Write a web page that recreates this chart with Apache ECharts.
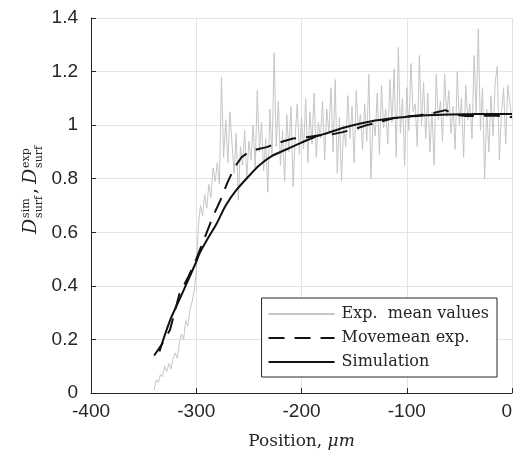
<!DOCTYPE html>
<html>
<head>
<meta charset="utf-8">
<script src="https://cdn.jsdelivr.net/npm/echarts@6/dist/echarts.min.js"></script>
<style>html,body{margin:0;padding:0;background:#fff;}#c{width:515px;height:455px;}</style>
</head>
<body>
<div id="c"></div>
<script>
// Experimental mean values, every 2 µm from -340 to 0
const expStart = -340, expStep = 2;
const expValues = [
  0.01, 0.05, 0.04, 0.07, 0.06, 0.10, 0.08, 0.11, 0.09, 0.13,
  0.15, 0.13, 0.19, 0.22, 0.20, 0.27, 0.25, 0.31, 0.34, 0.38,
  0.45, 0.62, 0.70, 0.66, 0.74, 0.69, 0.78, 0.73, 0.84, 0.79,
  0.86, 0.78, 1.18, 0.88, 1.02, 0.86, 1.05, 0.93, 0.82, 0.97,
  0.72, 0.92, 0.85, 0.98, 0.80, 0.94, 0.87, 1.00, 0.84, 1.13,
  0.90, 1.01, 0.83, 0.95, 0.75, 1.06, 0.88, 1.27, 0.92, 1.09,
  0.85, 0.98, 0.79, 1.04, 0.90, 1.07, 0.77, 0.96, 1.08, 0.89,
  1.03, 0.91, 1.10, 0.86, 1.05, 0.93, 1.12, 0.88, 1.01, 0.95,
  1.09, 0.87, 1.06, 0.97, 1.14, 0.90, 1.17, 0.82, 1.03, 0.79,
  1.00, 0.92, 1.11, 0.95, 1.07, 0.86, 1.13, 0.98, 1.04, 0.91,
  1.08, 0.94, 1.19, 0.80, 1.02, 0.96, 1.12, 0.89, 1.15, 0.99,
  1.06, 0.93, 1.17, 1.01, 1.21, 0.88, 1.29, 0.97, 1.10, 0.85,
  1.14, 0.98, 1.23, 1.05, 1.08, 0.92, 1.26, 1.00, 1.16, 0.95,
  1.12, 0.90, 1.05, 0.85, 1.19, 1.02, 1.09, 0.94, 1.19, 1.03,
  1.13, 0.97, 1.07, 0.91, 1.20, 1.00, 1.10, 0.88, 1.15, 1.02,
  1.08, 0.95, 1.26, 1.04, 1.36, 0.98, 1.14, 0.80, 1.06, 0.90,
  1.11, 0.96, 1.16, 1.22, 0.87, 1.05, 1.14, 0.93, 1.15, 1.08,
  1.02
];
// Moving mean of experiment
const moveX = [-340, -333, -325, -316, -308, -300, -292, -284, -277, -271, -264, -257, -250, -242, -233, -225, -217, -208, -195, -183, -172, -161, -150, -138, -125, -113, -100, -88, -75, -63, -55, -44, -30, -15, 0];
const moveY = [0.14, 0.18, 0.235, 0.37, 0.43, 0.50, 0.58, 0.66, 0.72, 0.78, 0.84, 0.88, 0.90, 0.91, 0.918, 0.93, 0.94, 0.95, 0.955, 0.962, 0.965, 0.974, 0.985, 1.0, 1.013, 1.026, 1.032, 1.037, 1.045, 1.056, 1.04, 1.034, 1.035, 1.035, 1.03];
// Simulation
const simX = [-335, -325, -317, -309, -300, -297, -290, -281, -272, -262, -250, -240, -228, -214, -200, -188, -176, -160, -145, -130, -114, -100, -82, -60, -40, -20, 0];
const simY = [0.155, 0.27, 0.34, 0.41, 0.49, 0.52, 0.57, 0.63, 0.70, 0.757, 0.81, 0.85, 0.885, 0.91, 0.935, 0.955, 0.97, 0.99, 1.005, 1.017, 1.026, 1.031, 1.037, 1.04, 1.041, 1.042, 1.042];
const seriesNames = ['Exp.  mean values', 'Movemean exp.', 'Simulation'];
const xTicks = {min: -400, max: 0, interval: 100};
const yTicks = {min: 0, max: 1.4, interval: 0.2};

const expData = expValues.map((v, i) => [expStart + i * expStep, v]);
const moveData = moveX.map((x, i) => [x, moveY[i]]);
const simData = simX.map((x, i) => [x, simY[i]]);

const dark = '#262626';
const serif = '"DejaVu Serif", serif';
const sans = '"Liberation Sans", Arial, sans-serif';

const chart = echarts.init(document.getElementById('c'));
chart.setOption({
  animation: false,
  backgroundColor: '#fff',
  grid: {left: 91, right: 3, top: 18, bottom: 62, containLabel: false, outerBoundsMode: 'none'},
  xAxis: {
    type: 'value', min: xTicks.min, max: xTicks.max, interval: xTicks.interval,
    axisLine: {onZero: false, lineStyle: {color: dark, width: 1}},
    axisTick: {inside: true, length: 5, lineStyle: {color: dark}},
    axisLabel: {color: dark, fontFamily: sans, fontSize: 19, margin: 9, alignMaxLabel: 'right'},
    splitLine: {lineStyle: {color: '#e3e3e3', width: 1}},
    name: '{a|Position, }{b|μm}',
    nameLocation: 'middle', nameGap: 40,
    nameTextStyle: {rich: {
      a: {fontFamily: serif, fontSize: 17, color: dark},
      b: {fontFamily: serif, fontSize: 17, fontStyle: 'italic', color: dark}
    }}
  },
  yAxis: {
    type: 'value', min: yTicks.min, max: yTicks.max, interval: yTicks.interval,
    axisLine: {show: true, onZero: false, lineStyle: {color: dark, width: 1}},
    axisTick: {show: true, inside: true, length: 5, lineStyle: {color: dark}},
    axisLabel: {color: dark, fontFamily: sans, fontSize: 19, margin: 13},
    splitLine: {lineStyle: {color: '#e3e3e3', width: 1}}
  },
  legend: {
    orient: 'vertical', right: 18, top: 298,
    padding: [8, 8, 7, 6], itemGap: 8, itemWidth: 66, itemHeight: 16,
    borderColor: dark, borderWidth: 1, backgroundColor: '#fff', borderRadius: 0,
    itemStyle: {opacity: 0},
    textStyle: {fontFamily: serif, fontSize: 16, color: dark, padding: [0, 0, 0, 2]},
    data: seriesNames
  },
  series: [
    {name: seriesNames[0], type: 'line', data: expData, symbol: 'none', z: 1,
     lineStyle: {color: '#c6c6c6', width: 1}, itemStyle: {color: '#c6c6c6'}},
    {name: seriesNames[1], type: 'line', data: moveData, symbol: 'none', z: 3,
     lineStyle: {color: '#111', width: 2, type: [16, 10]}, itemStyle: {color: '#111'}},
    {name: seriesNames[2], type: 'line', data: simData, symbol: 'none', smooth: 0.3, z: 4,
     lineStyle: {color: '#111', width: 2}, itemStyle: {color: '#111'}}
  ],
  graphic: [{
    type: 'group', x: 41, y: 234, rotation: Math.PI / 2,
    children: [
      {type: 'text', x: 0, y: 0, style: {text: 'D', font: 'italic 19px ' + serif, fill: dark, verticalAlign: 'bottom'}},
      {type: 'text', x: 16, y: -9, style: {text: 'sim', font: '11px ' + serif, fill: dark, verticalAlign: 'bottom'}},
      {type: 'text', x: 16, y: 4, style: {text: 'surf', font: '11px ' + serif, fill: dark, verticalAlign: 'bottom'}},
      {type: 'text', x: 40, y: 0, style: {text: ',', font: '19px ' + serif, fill: dark, verticalAlign: 'bottom'}},
      {type: 'text', x: 50, y: 0, style: {text: 'D', font: 'italic 19px ' + serif, fill: dark, verticalAlign: 'bottom'}},
      {type: 'text', x: 66, y: -9, style: {text: 'exp', font: '11px ' + serif, fill: dark, verticalAlign: 'bottom'}},
      {type: 'text', x: 66, y: 4, style: {text: 'surf', font: '11px ' + serif, fill: dark, verticalAlign: 'bottom'}}
    ]
  }]
});
</script>
</body>
</html>
